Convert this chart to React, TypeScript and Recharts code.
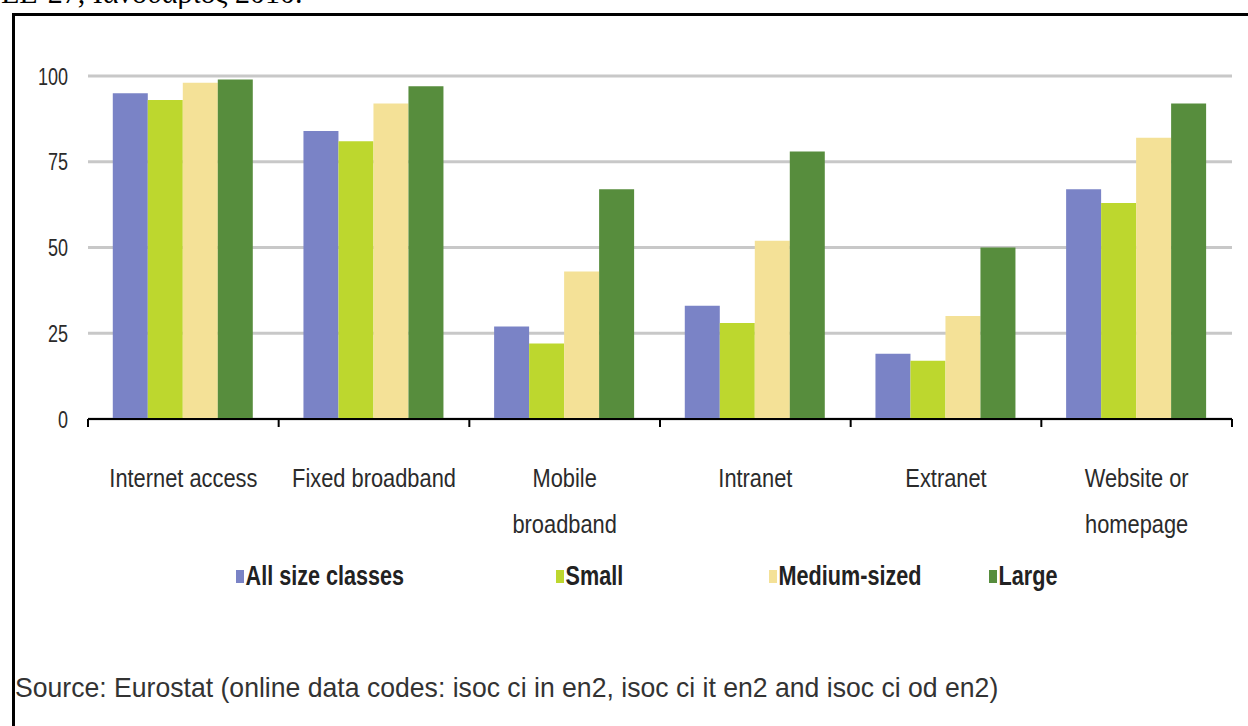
import { BarChart, Bar, XAxis, YAxis, CartesianGrid } from 'recharts';

const CATEGORIES = ['Internet access', 'Fixed broadband', 'Mobile\nbroadband', 'Intranet', 'Extranet', 'Website or\nhomepage'];
const ALL_SIZES = [95, 84, 27, 33, 19, 67];
const SMALL = [93, 81, 22, 28, 17, 63];
const MEDIUM = [98, 92, 43, 52, 30, 82];
const LARGE = [99, 97, 67, 78, 50, 92];
const Y_TICKS = [0, 25, 50, 75, 100];

const SERIES = [
  { key: 'all', name: 'All size classes', color: '#7a83c6' },
  { key: 'small', name: 'Small', color: '#bdd72e' },
  { key: 'medium', name: 'Medium-sized', color: '#f4e197' },
  { key: 'large', name: 'Large', color: '#578d3d' },
];

const data = CATEGORIES.map((name, i) => ({
  name,
  all: ALL_SIZES[i],
  small: SMALL[i],
  medium: MEDIUM[i],
  large: LARGE[i],
}));

// the source picture uses a tall narrow font, so squeeze Liberation Sans
const FONT = "'Liberation Sans', Arial, sans-serif";
const LEGEND_LEFT = [236, 556, 769, 989];

// category ticks sit between the groups, like the original excel chart
function CategoryTick(props: any) {
  const { x, y, payload, index, width } = props;
  const band = width / CATEGORIES.length;
  const lines = String(payload.value).split('\n');
  return (
    <g>
      <line x1={x - band / 2} y1={y} x2={x - band / 2} y2={y + 8} stroke="#000" strokeWidth={2} />
      {index === CATEGORIES.length - 1 && (
        <line x1={x + band / 2} y1={y} x2={x + band / 2} y2={y + 8} stroke="#000" strokeWidth={2} />
      )}
      {lines.map((l, i) => (
        <g key={i} transform={`translate(${x},${y + 68 + i * 46}) scale(0.84,1)`}>
          <text textAnchor="middle" fill="#2b2b2b" fontSize={26} fontFamily={FONT}>{l}</text>
        </g>
      ))}
    </g>
  );
}

function ValueTick(props: any) {
  const { x, y, payload } = props;
  return (
    <g transform={`translate(${x},${y}) scale(0.75,1)`}>
      <text textAnchor="end" dy="0.36em" fill="#2b2b2b" fontSize={24} fontFamily={FONT}>{payload.value}</text>
    </g>
  );
}

export default function App() {
  return (
    <div style={{ position: 'absolute', left: 0, top: 0, width: 1248, height: 726, overflow: 'hidden', background: '#fff' }}>
      <div style={{ position: 'absolute', left: 1, top: -22, fontFamily: 'serif', fontSize: 30, lineHeight: '30px', whiteSpace: 'nowrap', color: '#000' }}>
        ΕΕ-27, Ιανουάριος 2010.
      </div>
      <div style={{ position: 'absolute', left: 12, top: 13, width: 1260, height: 800, border: '3px solid #000', borderRight: 'none' }} />

      <div style={{ position: 'absolute', left: 0, top: 0 }}>
        <BarChart
          width={1248}
          height={600}
          data={data}
          margin={{ top: 76, right: 16, left: 0, bottom: 51 }}
          barCategoryGap="13%"
          barGap={0}
        >
          <CartesianGrid vertical={false} stroke="#c8c8c8" strokeWidth={3} />
          <XAxis
            dataKey="name"
            axisLine={{ stroke: '#000', strokeWidth: 2 }}
            tickLine={false}
            tickSize={0}
            tickMargin={0}
            height={130}
            interval={0}
            tick={<CategoryTick />}
          />
          <YAxis
            domain={[0, 100]}
            ticks={Y_TICKS}
            width={88}
            axisLine={false}
            tickLine={false}
            tickSize={0}
            tickMargin={20}
            tick={<ValueTick />}
          />
          {SERIES.map((s) => (
            <Bar key={s.key} dataKey={s.key} name={s.name} fill={s.color} isAnimationActive={false} />
          ))}
        </BarChart>
      </div>

      {SERIES.map((s, i) => (
        <div
          key={s.key}
          style={{ position: 'absolute', left: LEGEND_LEFT[i], top: 561, display: 'flex', alignItems: 'center', fontFamily: FONT, fontSize: 27, fontWeight: 'bold', color: '#222', whiteSpace: 'nowrap', transform: 'scaleX(0.8)', transformOrigin: 'left center' }}
        >
          <span style={{ display: 'inline-block', width: 10, height: 13, background: s.color, marginRight: 2 }} />
          {s.name}
        </div>
      ))}

      <div style={{ position: 'absolute', left: 15, top: 672, fontFamily: FONT, fontSize: 28, color: '#333', whiteSpace: 'nowrap', transform: 'scaleX(0.95)', transformOrigin: 'left center' }}>
        Source: Eurostat (online data codes: isoc ci in en2, isoc ci it en2 and isoc ci od en2)
      </div>
    </div>
  );
}
